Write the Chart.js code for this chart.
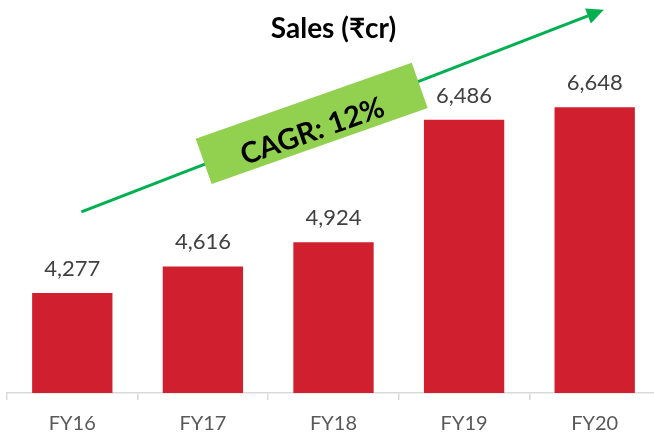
<!DOCTYPE html>
<html>
<head>
<meta charset="utf-8">
<script src="https://cdn.jsdelivr.net/npm/chart.js@4"></script>
<style>
  html, body { margin: 0; padding: 0; background: #fff; overflow: hidden; }
  #wrap { width: 661px; height: 436px; }
</style>
</head>
<body>
<div id="wrap"><canvas id="c" width="661" height="436" style="width:661px;height:436px"></canvas></div>
<script>
const categories = ['FY16', 'FY17', 'FY18', 'FY19', 'FY20'];
const sales = [4277, 4616, 4924, 6486, 6648];
const titleText = 'Sales (₹cr)';
const cagrText = 'CAGR: 12%';
// annotation anchors in data space (category index, value)
const arrowFrom = [0.07, 5312];
const arrowTo = [4.07, 7891];
const boxCenter = [1.833, 6442];

const FONT = "Lato, 'Noto Sans', 'DejaVu Sans', sans-serif";

const overlay = {
  id: 'overlay',
  afterDatasetsDraw(chart) {
    const ctx = chart.ctx;
    const xs = chart.scales.x, ys = chart.scales.y;
    // data labels
    const meta = chart.getDatasetMeta(0);
    ctx.save();
    ctx.font = '22px ' + FONT;
    ctx.fillStyle = '#404040';
    ctx.textAlign = 'center';
    ctx.textBaseline = 'alphabetic';
    meta.data.forEach((bar, i) => {
      ctx.fillText(sales[i].toLocaleString('en-US'), bar.x, bar.y - 17);
    });
    ctx.restore();

    // arrow
    const x1 = xs.getPixelForValue(arrowFrom[0]), y1 = ys.getPixelForValue(arrowFrom[1]);
    const x2 = xs.getPixelForValue(arrowTo[0]), y2 = ys.getPixelForValue(arrowTo[1]);
    const ang = Math.atan2(y2 - y1, x2 - x1);
    const headL = 17, headW = 8;
    ctx.save();
    ctx.strokeStyle = '#00B050';
    ctx.fillStyle = '#00B050';
    ctx.lineWidth = 3;
    ctx.beginPath();
    ctx.moveTo(x1, y1);
    ctx.lineTo(x2 - headL * Math.cos(ang), y2 - headL * Math.sin(ang));
    ctx.stroke();
    ctx.beginPath();
    ctx.moveTo(x2, y2);
    const bx = x2 - headL * Math.cos(ang), by = y2 - headL * Math.sin(ang);
    ctx.lineTo(bx + headW * Math.sin(ang), by - headW * Math.cos(ang));
    ctx.lineTo(bx - headW * Math.sin(ang), by + headW * Math.cos(ang));
    ctx.closePath();
    ctx.fill();
    ctx.restore();

    // CAGR box
    const cx = xs.getPixelForValue(boxCenter[0]), cy = ys.getPixelForValue(boxCenter[1]);
    ctx.save();
    ctx.translate(cx, cy);
    ctx.rotate(-19.4 * Math.PI / 180);
    ctx.fillStyle = '#92D050';
    ctx.fillRect(-114.5, -24, 229, 48);
    ctx.fillStyle = '#000';
    ctx.font = 'bold 29px ' + FONT;
    ctx.textAlign = 'center';
    ctx.textBaseline = 'middle';
    ctx.fillText(cagrText, -2, 8);
    ctx.restore();
  }
};

new Chart(document.getElementById('c'), {
  type: 'bar',
  data: {
    labels: categories,
    datasets: [{
      data: sales,
      backgroundColor: '#D01F2F',
      borderWidth: 0,
      categoryPercentage: 1,
      barPercentage: 0.615
    }]
  },
  options: {
    responsive: false,
    animation: false,
    layout: { padding: { left: 7, right: 1, top: 0, bottom: 0 } },
    plugins: {
      legend: { display: false },
      tooltip: { enabled: false },
      title: {
        display: true,
        text: titleText,
        color: '#000',
        font: { family: FONT, size: 28, weight: 'bold', lineHeight: 1.2 },
        padding: { top: 12, bottom: 34 }
      }
    },
    scales: {
      x: {
        offset: true,
        grid: {
          offset: true,
          drawOnChartArea: false,
          drawTicks: true,
          tickLength: 7,
          color: '#D9D9D9',
          lineWidth: 1.5
        },
        border: { display: true, color: '#D9D9D9', width: 1.5 },
        ticks: {
          color: '#595959',
          font: { family: FONT, size: 20 },
          padding: 12
        },
        afterFit(scale) { scale.height = 43; }
      },
      y: {
        display: false,
        min: 3000,
        max: 7000
      }
    }
  },
  plugins: [overlay]
});
</script>
</body>
</html>
